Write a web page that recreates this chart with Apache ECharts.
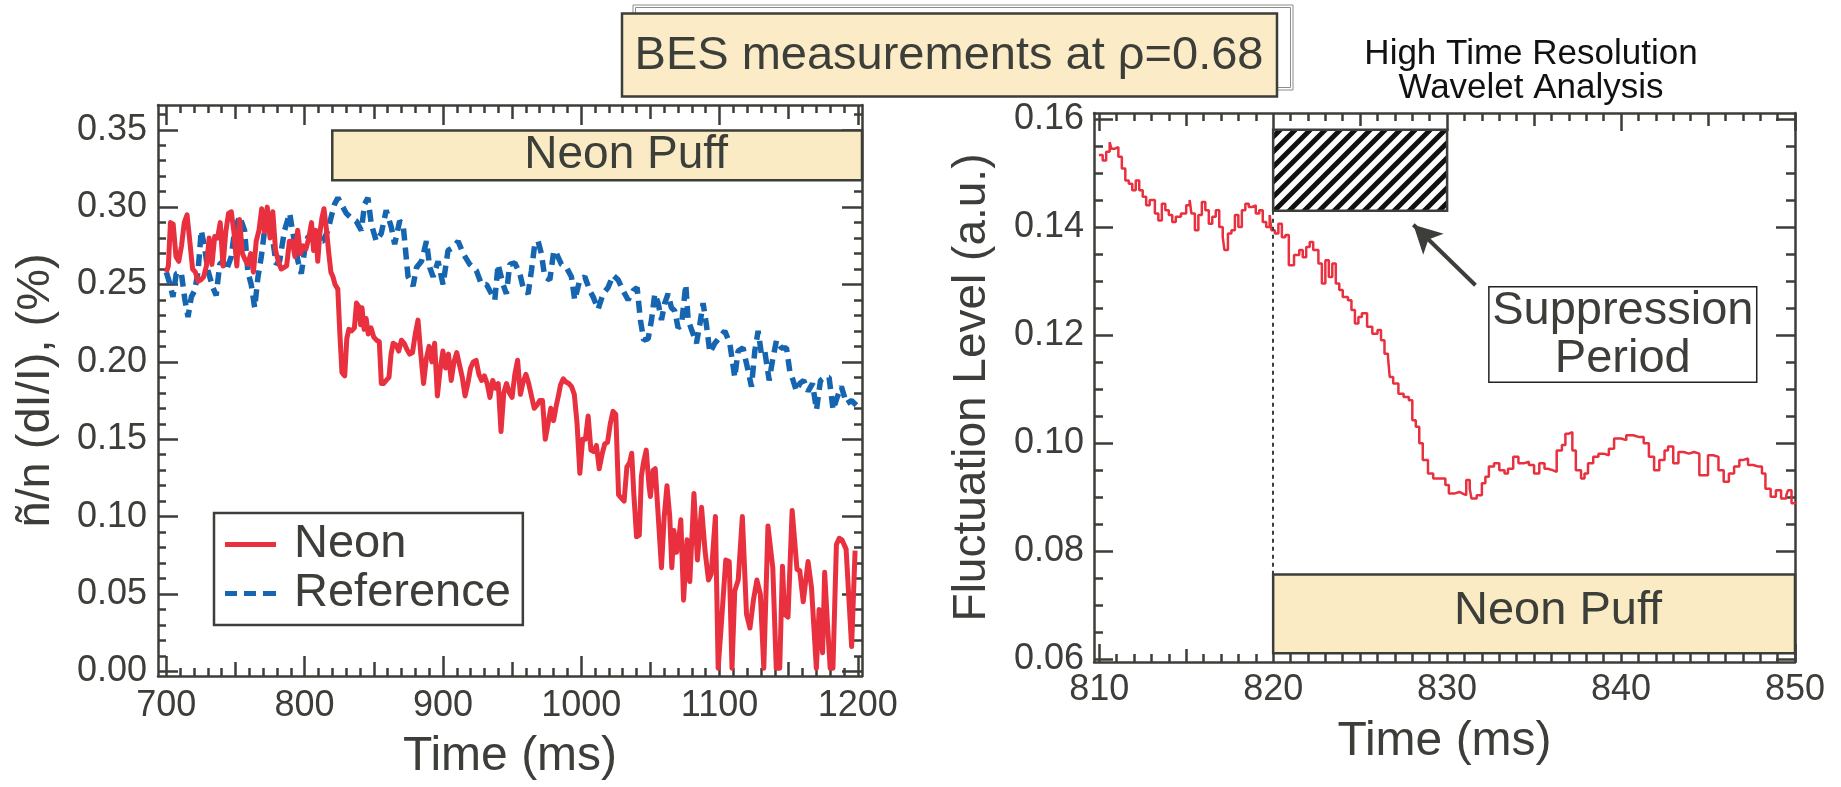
<!DOCTYPE html>
<html><head><meta charset="utf-8">
<script src="https://cdn.jsdelivr.net/npm/echarts@6/dist/echarts.min.js"></script>
<style>html,body{margin:0;padding:0;background:#fff}#c{width:1841px;height:787px}</style>
</head><body><div id="c"></div>
<script>
// ---------- DATA ----------
const neonT=[700,701.5,703,705,707,709,711,713,715,717,719,721,723,725,727,729,731,733,735,737,739,741,743,745,747,749,751,753,755,757,759,761,763,765,767,769,771,773,775,777,779,781,783,785,787,789,791,793,795,797,799,801,803,805,806.5,808,809.5,811,812.5,814,816,817.5,819,820.5,822,824,825.5,827,829,830.5,832,834,836,837.5,839,840.5,841.5,843,844.5,846,848,850,852,854,855.5,857,859,861,862.5,864,866,868,870,872,874,876,878,880,882,884,886,888,890,892,894,896,898,900,902,904,906,908,910,912,914,916,918,920,922,924,926,928,930,932,934,936,938,940,942,944,946,948,950,952,954,956,958,960,962,964,966,968,970,972,974,976,978,980,982,983.5,985,987,989,991,993,995,997,999,1001,1003,1005,1007,1009,1011,1013,1015,1017,1019,1021,1023,1025,1027,1029,1031,1033,1035,1036.5,1038,1040,1042,1043.5,1045,1047,1049,1050,1052,1053.5,1055,1058,1060,1062,1064,1065.5,1067,1069,1070.5,1072,1074,1076.5,1078.5,1081.5,1084,1087,1089.5,1092,1094,1097,1099,1101.5,1104.5,1107,1109,1111,1113.5,1116.5,1119.5,1122,1124.5,1127,1129.5,1132,1135,1138.5,1141,1143.5,1145.5,1147,1149.5,1152.5,1156,1158,1160.5,1164,1166.5,1170,1172,1174.5,1176,1178,1180,1182,1184.5,1186.5,1188.5,1191.5,1195.5,1198];
const neonV=[0.258,0.262,0.290,0.289,0.268,0.265,0.275,0.290,0.295,0.278,0.260,0.258,0.252,0.253,0.255,0.262,0.280,0.263,0.281,0.280,0.290,0.262,0.284,0.296,0.297,0.283,0.262,0.292,0.270,0.266,0.263,0.270,0.258,0.278,0.285,0.299,0.284,0.300,0.280,0.297,0.272,0.265,0.260,0.261,0.262,0.278,0.278,0.268,0.285,0.270,0.275,0.273,0.280,0.290,0.272,0.285,0.265,0.283,0.293,0.299,0.284,0.270,0.258,0.255,0.250,0.247,0.218,0.193,0.191,0.215,0.221,0.220,0.222,0.238,0.236,0.224,0.235,0.221,0.228,0.218,0.222,0.216,0.214,0.213,0.186,0.186,0.188,0.190,0.205,0.212,0.211,0.207,0.214,0.212,0.208,0.205,0.206,0.218,0.227,0.205,0.186,0.202,0.210,0.200,0.212,0.178,0.195,0.207,0.196,0.205,0.188,0.200,0.206,0.198,0.190,0.178,0.186,0.196,0.200,0.201,0.192,0.188,0.191,0.186,0.177,0.188,0.183,0.186,0.155,0.180,0.186,0.180,0.177,0.192,0.201,0.179,0.187,0.192,0.186,0.178,0.170,0.172,0.175,0.175,0.150,0.160,0.170,0.162,0.172,0.178,0.185,0.189,0.187,0.186,0.184,0.179,0.160,0.128,0.150,0.150,0.165,0.143,0.142,0.146,0.131,0.140,0.147,0.148,0.160,0.168,0.166,0.114,0.112,0.110,0.132,0.135,0.141,0.115,0.087,0.088,0.126,0.135,0.143,0.120,0.113,0.130,0.131,0.110,0.067,0.100,0.120,0.100,0.067,0.091,0.077,0.085,0.098,0.046,0.085,0.058,0.115,0.072,0.106,0.078,0.059,0.063,0.100,0.002,0.033,0.072,0.071,0.002,0.052,0.059,0.100,0.037,0.028,0.046,0.059,0.050,0.002,0.094,0.067,0.002,0.002,0.068,0.037,0.035,0.104,0.066,0.065,0.045,0.071,0.054,0.002,0.040,0.012,0.064,0.031,0.002,0.002,0.082,0.086,0.085,0.079,0.016,0.078];

const refT=[700,702.4,704.8,707.2,710.8,713.3,715.7,718.1,720.5,722.9,725.3,727.7,730.1,733.7,736.1,738.6,741,743.4,747,749.4,753,756.6,759,761.4,763.9,766.3,768.7,772.3,774.7,777.1,779.5,781.9,785.5,789.2,791.6,795.2,797.6,800,802.4,806,809.6,813.3,816.9,819.3,821.7,824.1,827.7,830.1,833.7,837.3,841,843.4,845.8,848.2,851.8,855.4,859,862.7,865.1,868.7,871.2,874.8,878.4,880.9,884.5,888.1,890.5,892.9,896.5,900.1,903.7,907.4,911,914.6,919.4,924.2,927.9,931.5,935.1,937.5,939.9,943.5,945.9,948.3,952,955.6,958,961.6,964,966.4,968.8,971.2,973.6,977.3,980.2,982.1,985.7,989.3,992.9,995.3,999,1002.6,1006.2,1008.6,1012.2,1015.8,1019.4,1023,1026.7,1030.3,1033.9,1037.5,1040.4,1042.8,1045.2,1048.4,1050.8,1053.2,1055.6,1058,1060.4,1062.8,1065.2,1067.6,1070,1072.5,1075.6,1077.3,1080.9,1083.3,1085.7,1088.1,1090.5,1093,1096.6,1100.2,1103.8,1107.4,1111,1113.4,1117,1120.7,1123.1,1125.5,1127.9,1130.3,1132.7,1135.9,1138.3,1141.2,1144.8,1148.4,1150.8,1153.2,1155.6,1158,1160.9,1164,1167.2,1170.1,1173,1176.1,1179.2,1182.1,1185,1188.1,1191.8,1195.4,1198.9];
const refV=[0.258,0.251,0.242,0.257,0.258,0.241,0.229,0.242,0.246,0.258,0.285,0.274,0.259,0.248,0.243,0.263,0.265,0.259,0.268,0.285,0.294,0.285,0.258,0.250,0.235,0.255,0.268,0.294,0.285,0.278,0.263,0.265,0.285,0.296,0.283,0.265,0.257,0.272,0.281,0.281,0.278,0.278,0.285,0.294,0.302,0.306,0.300,0.296,0.293,0.291,0.285,0.302,0.306,0.289,0.278,0.283,0.298,0.287,0.276,0.291,0.289,0.255,0.249,0.261,0.265,0.278,0.261,0.255,0.265,0.250,0.272,0.274,0.278,0.270,0.263,0.259,0.250,0.250,0.244,0.240,0.263,0.250,0.244,0.263,0.264,0.257,0.248,0.244,0.259,0.276,0.278,0.270,0.255,0.253,0.272,0.270,0.263,0.261,0.255,0.240,0.253,0.255,0.246,0.242,0.234,0.244,0.248,0.256,0.253,0.246,0.240,0.246,0.248,0.227,0.214,0.215,0.227,0.244,0.238,0.227,0.238,0.244,0.235,0.233,0.222,0.224,0.250,0.227,0.218,0.212,0.224,0.238,0.224,0.206,0.212,0.216,0.220,0.212,0.190,0.207,0.209,0.194,0.184,0.207,0.220,0.205,0.207,0.188,0.201,0.214,0.209,0.209,0.194,0.188,0.181,0.186,0.188,0.181,0.186,0.169,0.188,0.190,0.190,0.169,0.177,0.184,0.173,0.175,0.172];

const wavT=[809.98,810.2,810.4,810.6,810.7,810.9,811.1,811.3,811.5,811.7,811.9,812.1,812.3,812.5,812.7,812.9,813.0,813.2,813.4,813.6,813.8,814.0,814.2,814.4,814.7,815.0,815.2,815.3,815.5,815.7,815.9,816.1,816.3,816.5,816.7,816.9,817.1,817.2,817.4,817.6,817.8,818.0,818.2,818.4,818.6,818.8,819.0,819.2,819.4,819.6,819.8,819.9,820.1,820.3,820.5,820.7,820.9,821.2,821.5,821.7,821.9,822.1,822.3,822.6,822.8,823.0,823.2,823.4,823.6,823.8,824.0,824.3,824.5,824.7,824.9,825.1,825.4,825.7,826.0,826.2,826.4,826.6,826.7,826.9,827.2,827.5,827.8,828.0,828.2,828.4,828.6,828.9,829.2,829.6,829.9,830.1,830.4,830.7,830.9,831.1,831.3,831.4,831.7,832.0,832.2,832.4,832.7,833.0,833.3,833.5,833.8,834.1,834.4,834.7,835.0,835.3,835.6,835.8,836.1,836.3,836.6,836.8,837.0,837.2,837.4,837.7,837.9,838.1,838.4,838.7,839.0,839.3,839.6,840.0,840.3,840.7,841.0,841.3,841.6,841.9,842.2,842.5,842.7,843.0,843.3,843.6,843.9,844.2,844.5,844.8,845.0,845.3,845.6,845.9,846.2,846.5,846.8,847.0,847.3,847.6,847.9,848.1,848.3,848.6,848.9,849.2,849.5,849.6,849.8,850];
const wavV=[0.1533,0.1523,0.1539,0.1557,0.1545,0.1548,0.1530,0.1508,0.1486,0.1480,0.1468,0.1486,0.1468,0.1456,0.1440,0.1450,0.1450,0.1425,0.1412,0.1443,0.1431,0.1422,0.1409,0.1419,0.1425,0.1440,0.1450,0.1425,0.1394,0.1422,0.1446,0.1431,0.1406,0.1419,0.1431,0.1400,0.1381,0.1357,0.1388,0.1394,0.1422,0.1400,0.1431,0.1443,0.1437,0.1440,0.1425,0.1431,0.1409,0.1400,0.1422,0.1394,0.1388,0.1406,0.1381,0.1385,0.1329,0.1348,0.1357,0.1344,0.1363,0.1372,0.1357,0.1332,0.1295,0.1338,0.1307,0.1332,0.1295,0.1283,0.1270,0.1264,0.1246,0.1221,0.1233,0.1240,0.1215,0.1202,0.1209,0.1190,0.1165,0.1159,0.1122,0.1110,0.1091,0.1085,0.1079,0.1042,0.1030,0.0999,0.0968,0.0943,0.0934,0.0934,0.0922,0.0906,0.0909,0.0906,0.0903,0.0931,0.0915,0.0897,0.0903,0.0925,0.0937,0.0956,0.0962,0.0949,0.0943,0.0952,0.0974,0.0962,0.0965,0.0959,0.0943,0.0962,0.0952,0.0949,0.0946,0.0986,0.0996,0.1017,0.1020,0.0986,0.0949,0.0934,0.0943,0.0962,0.0974,0.0980,0.0977,0.0989,0.1008,0.1005,0.1014,0.1011,0.1011,0.0999,0.0974,0.0949,0.0968,0.0986,0.0993,0.0962,0.0983,0.0980,0.0983,0.0980,0.0940,0.0940,0.0977,0.0974,0.0949,0.0928,0.0943,0.0956,0.0968,0.0971,0.0959,0.0956,0.0956,0.0943,0.0915,0.0900,0.0912,0.0897,0.0903,0.0912,0.0888,0.0890];

const leftXLabels=[700,800,900,1000,1100,1200];
const leftYLabels=[0,0.05,0.10,0.15,0.20,0.25,0.30,0.35];
const rightXLabels=[810,820,830,840,850];
const rightYLabels=[0.06,0.08,0.10,0.12,0.14,0.16];

// ---------- STYLE / HELPERS ----------
const AX='#3c3e39', RED='#e8303f', BLUE='#1565b0', PUFF='#faebc5';
const FONT='"Liberation Sans", Arial, Helvetica, sans-serif';
function range(a,b,step,skipStep){
  const out=[]; const n=Math.round((b-a)/step);
  for(let i=0;i<=n;i++){const v=+(a+i*step).toFixed(4);
    if(skipStep){const r=v/skipStep; if(Math.abs(r-Math.round(r))<1e-6) continue;}
    out.push(v);}
  return out;
}
function axis(gi,pos,min,max,vals,len,main,extra){
  return Object.assign({type:'value',gridIndex:gi,position:pos,min:min,max:max,
    splitLine:{show:false},
    axisLine:{show:!!main,onZero:false,lineStyle:{color:AX,width:2.5}},
    axisTick:{show:true,inside:true,length:len,customValues:vals,lineStyle:{color:AX,width:2.5}},
    axisLabel:{show:false}},extra||{});
}
const lblStyle={fontSize:36,color:AX,fontFamily:FONT};
const nameStyle=(fs)=>({fontSize:fs,color:AX,fontFamily:FONT});

const LX=[694,1203], LY=[-0.003,0.366], RX=[809.7,850], RY=[0.0594,0.1611];

const xAxes=[
  axis(0,'bottom',LX[0],LX[1],leftXLabels,20,true,{
    axisLabel:{show:true,customValues:leftXLabels,margin:12,formatter:v=>String(v),...lblStyle},
    name:'Time (ms)',nameLocation:'middle',nameGap:57,nameTextStyle:nameStyle(48)}),
  axis(0,'bottom',LX[0],LX[1],range(750,1150,100),14,false),
  axis(0,'bottom',LX[0],LX[1],range(700,1200,10,50),8,false),
  axis(0,'top',LX[0],LX[1],leftXLabels,20,true),
  axis(0,'top',LX[0],LX[1],range(750,1150,100),14,false),
  axis(0,'top',LX[0],LX[1],range(700,1200,10,50),8,false),
  axis(1,'bottom',RX[0],RX[1],rightXLabels,18,true,{
    axisLabel:{show:true,customValues:rightXLabels,margin:10,formatter:v=>String(v),...lblStyle},
    name:'Time (ms)',nameLocation:'middle',nameGap:56,nameTextStyle:nameStyle(48)}),
  axis(1,'bottom',RX[0],RX[1],range(815,845,10),13,false),
  axis(1,'bottom',RX[0],RX[1],range(810,850,1,5),8,false),
  axis(1,'top',RX[0],RX[1],rightXLabels,18,true),
  axis(1,'top',RX[0],RX[1],range(815,845,10),13,false),
  axis(1,'top',RX[0],RX[1],range(810,850,1,5),8,false)
];
const yAxes=[
  axis(0,'left',LY[0],LY[1],leftYLabels,20,true,{
    axisLabel:{show:true,customValues:leftYLabels,margin:11,formatter:v=>(+v).toFixed(2),...lblStyle},
    name:'ñ/n (dI/I), (%)',nameLocation:'middle',nameGap:98,nameTextStyle:nameStyle(47)}),
  axis(0,'left',LY[0],LY[1],range(0,0.36,0.01,0.05),8,false),
  axis(0,'right',LY[0],LY[1],leftYLabels,20,true),
  axis(0,'right',LY[0],LY[1],range(0,0.36,0.01,0.05),8,false),
  axis(1,'left',RY[0],RY[1],rightYLabels,19,true,{
    axisLabel:{show:true,customValues:rightYLabels,margin:10,formatter:v=>(+v).toFixed(2),...lblStyle},
    name:'Fluctuation Level (a.u.)',nameLocation:'middle',nameGap:99,nameTextStyle:nameStyle(46)}),
  axis(1,'left',RY[0],RY[1],range(0.06,0.16,0.005,0.02),9,false),
  axis(1,'right',RY[0],RY[1],rightYLabels,19,true),
  axis(1,'right',RY[0],RY[1],range(0.06,0.16,0.005,0.02),9,false)
];

function hatchCanvas(){
  const s=15,c=document.createElement('canvas'); c.width=s;c.height=s;
  const g=c.getContext('2d'); g.fillStyle='#fff'; g.fillRect(0,0,s,s);
  g.strokeStyle='#111'; g.lineWidth=5; g.beginPath();
  g.moveTo(0,s); g.lineTo(s,0);
  g.moveTo(-s/2,s/2); g.lineTo(s/2,-s/2);
  g.moveTo(s/2,s*1.5); g.lineTo(s*1.5,s/2);
  g.stroke(); return c;
}
const zip=(t,v)=>t.map((x,i)=>[x,v[i]]);

const chart=echarts.init(document.getElementById('c'),null,{renderer:'canvas'});
chart.setOption({
  animation:false,
  backgroundColor:'#fff',
  textStyle:{fontFamily:FONT},
  grid:[{left:158,top:105,width:704,height:571},{left:1094,top:113,width:701,height:549}],
  xAxis:xAxes, yAxis:yAxes,
  legend:{data:[
      {name:'Neon',icon:'path://M0 0H51V5H0Z',itemStyle:{color:RED}},
      {name:'Reference',icon:'path://M0 0H12V5H0Z M19 0H31V5H19Z M38 0H51V5H38Z',itemStyle:{color:BLUE}}],
    left:214,top:513,orient:'vertical',itemWidth:51,itemHeight:5,itemGap:0,
    padding:[7,12,7,11],borderColor:AX,borderWidth:2.5,selectedMode:false,
    textStyle:{fontSize:47,color:AX,lineHeight:49,padding:[0,0,0,13],fontFamily:FONT}},
  graphic:[
    {type:'rect',silent:true,shape:{x:633,y:5,width:660,height:85},style:{fill:'none',stroke:'#8c8c8c',lineWidth:1}},
    {type:'rect',silent:true,shape:{x:635.5,y:7.5,width:655,height:80},style:{fill:'none',stroke:'#8c8c8c',lineWidth:1}},
    {type:'rect',silent:true,shape:{x:622,y:13.5,width:655,height:83},style:{fill:'#fbebc6',stroke:AX,lineWidth:2.5}},
    {type:'text',silent:true,x:949,y:56,style:{text:'BES measurements at ρ=0.68',fontSize:47,fontFamily:FONT,fill:AX,align:'center',verticalAlign:'middle'}},
    {type:'text',silent:true,x:1531,y:54,style:{text:'High Time Resolution',fontSize:35,fontFamily:FONT,fill:'#111',align:'center',verticalAlign:'middle'}},
    {type:'text',silent:true,x:1531,y:88,style:{text:'Wavelet Analysis',fontSize:35,fontFamily:FONT,fill:'#111',align:'center',verticalAlign:'middle'}}
  ],
  series:[
    {name:'Reference',type:'line',xAxisIndex:0,yAxisIndex:0,data:zip(refT,refV),symbol:'none',z:2,
     lineStyle:{color:BLUE,width:5.5,type:[12,7]},itemStyle:{color:BLUE}},
    {name:'Neon',type:'line',xAxisIndex:0,yAxisIndex:0,data:zip(neonT,neonV),symbol:'none',z:3,
     lineStyle:{color:RED,width:5,join:'round'},itemStyle:{color:RED},
     markArea:{silent:true,data:[[{xAxis:820,yAxis:0.3173,
        itemStyle:{color:PUFF,borderColor:AX,borderWidth:2.5},
        label:{show:true,position:'inside',offset:[29,0],formatter:'Neon Puff',fontSize:46,color:AX,fontFamily:FONT}},
        {xAxis:1203,yAxis:0.3495}]]}},
    {name:'Wavelet',type:'line',xAxisIndex:6,yAxisIndex:4,data:zip(wavT,wavV),symbol:'none',step:'end',z:3,
     lineStyle:{color:RED,width:2.5},itemStyle:{color:RED},
     markArea:{silent:true,data:[
       [{xAxis:820,yAxis:0.061,itemStyle:{color:PUFF,borderColor:AX,borderWidth:2.5},
         label:{show:true,position:'inside',offset:[24,-3],formatter:'Neon Puff',fontSize:47,color:AX,fontFamily:FONT}},
        {xAxis:850,yAxis:0.0756}],
       [{xAxis:820,yAxis:0.143,itemStyle:{color:{image:hatchCanvas(),repeat:'repeat'},borderColor:AX,borderWidth:2.5},label:{show:false}},
        {xAxis:830,yAxis:0.158}],
       [{xAxis:832.4,yAxis:0.1112,itemStyle:{color:'#fff',borderColor:'#222',borderWidth:1.5},
         label:{show:true,position:'inside',formatter:'Suppression\nPeriod',fontSize:47,lineHeight:48,align:'center',color:AX,fontFamily:FONT}},
        {xAxis:847.8,yAxis:0.1289}]
     ]},
     markLine:{silent:true,symbol:['none','none'],label:{show:false},emphasis:{disabled:true},
       lineStyle:{color:AX},
       data:[
         [{coord:[820,0.143],lineStyle:{type:[4,4],width:2,color:AX}},{coord:[820,0.0756]}],
         [{coord:[831.63,0.1292],symbol:'none',lineStyle:{type:'solid',width:4,color:AX}},{coord:[828.06,0.1404],symbol:'arrow',symbolSize:[22,28]}]
       ]}}
  ]
});
</script></body></html>
